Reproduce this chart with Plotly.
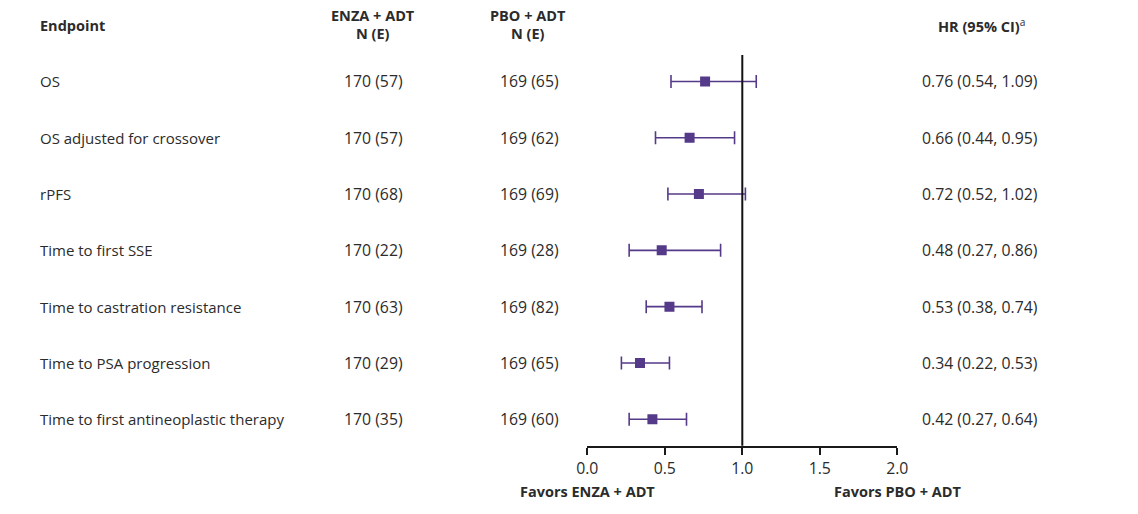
import plotly.graph_objects as go

endpoints = ["OS", "OS adjusted for crossover", "rPFS", "Time to first SSE",
             "Time to castration resistance", "Time to PSA progression",
             "Time to first antineoplastic therapy"]
enza_n = [170, 170, 170, 170, 170, 170, 170]
enza_e = [57, 57, 68, 22, 63, 29, 35]
pbo_n = [169, 169, 169, 169, 169, 169, 169]
pbo_e = [65, 62, 69, 28, 82, 65, 60]
hr = [0.76, 0.66, 0.72, 0.48, 0.53, 0.34, 0.42]
lo = [0.54, 0.44, 0.52, 0.27, 0.38, 0.22, 0.27]
hi = [1.09, 0.95, 1.02, 0.86, 0.74, 0.53, 0.64]
xticks = [0.0, 0.5, 1.0, 1.5, 2.0]

W, H = 1138, 514
PURPLE = "#553a8a"
TXT = "#2b2b2b"
FONT = "Open Sans"
FS = 15
NFS = 15.8
HFS = 14.5

rows = list(range(len(endpoints)))
fig = go.Figure()
fig.add_trace(go.Scatter(
    x=hr, y=rows, mode="markers",
    marker=dict(symbol="square", size=10, color=PURPLE),
    error_x=dict(type="data", symmetric=False,
                 array=[h - m for h, m in zip(hi, hr)],
                 arrayminus=[m - l for m, l in zip(hr, lo)],
                 color=PURPLE, thickness=1.6, width=6.5),
    showlegend=False, hoverinfo="skip"))

x0p, x2p = 587.3, 897.3
ytop_p, ybot_p = 55, 445.7
fig.update_layout(
    width=W, height=H, margin=dict(l=0, r=0, t=0, b=0, pad=0, autoexpand=False),
    plot_bgcolor="white", paper_bgcolor="white",
    font=dict(family=FONT, size=FS, color=TXT),
    xaxis=dict(domain=[x0p / W, x2p / W], range=[0, 2], tickvals=xticks,
               ticktext=[f"{v:.1f}" for v in xticks], showgrid=False,
               zeroline=False, showline=True, linecolor="#1a1a1a", linewidth=2,
               ticks="outside", ticklen=7, tickwidth=2, tickcolor="#1a1a1a",
               tickfont=dict(size=NFS, color=TXT)),
    yaxis=dict(domain=[(H - ybot_p) / H, (H - ytop_p) / H],
               range=[6.47, -0.47], visible=False, showgrid=False, zeroline=False),
)
fig.add_shape(type="line", xref="x", yref="y domain", x0=1, x1=1, y0=0, y1=1,
              line=dict(color="#111111", width=2))

def ann(x, y, text, anchor="center", size=FS):
    fig.add_annotation(x=x, y=y, xref="paper", yref="y", text=text,
                       showarrow=False, xanchor=anchor, yanchor="middle",
                       font=dict(family=FONT, size=size, color=TXT))

for i, ep in enumerate(endpoints):
    ann(38 / W, i, ep, anchor="left")
    ann(373 / W, i, f"{enza_n[i]} ({enza_e[i]})", size=NFS)
    ann(529 / W, i, f"{pbo_n[i]} ({pbo_e[i]})", size=NFS)
    ann(980 / W, i, f"{hr[i]:.2f} ({lo[i]:.2f}, {hi[i]:.2f})", size=NFS)

def py(p):
    return 1 - p / H

def hdr(x, y, text, anchor="center", xref="paper"):
    fig.add_annotation(x=x, y=py(y), xref=xref, yref="paper", text=text,
                       showarrow=False, xanchor=anchor, yanchor="middle",
                       font=dict(family=FONT, size=HFS, color=TXT))

hdr(38 / W, 25, "<b>Endpoint</b>", anchor="left")
for cx, t in [(373, "ENZA + ADT"), (528, "PBO + ADT")]:
    hdr(cx / W, 15, f"<b>{t}</b>")
    hdr(cx / W, 33, "<b>N (E)</b>")
hdr(981 / W, 25, "<b>HR (95% CI)</b><sup>a</sup>")
hdr(0, 491, "<b>Favors ENZA + ADT</b>", xref="x")
hdr(2, 491, "<b>Favors PBO + ADT</b>", xref="x")

fig.write_html("out.html")
